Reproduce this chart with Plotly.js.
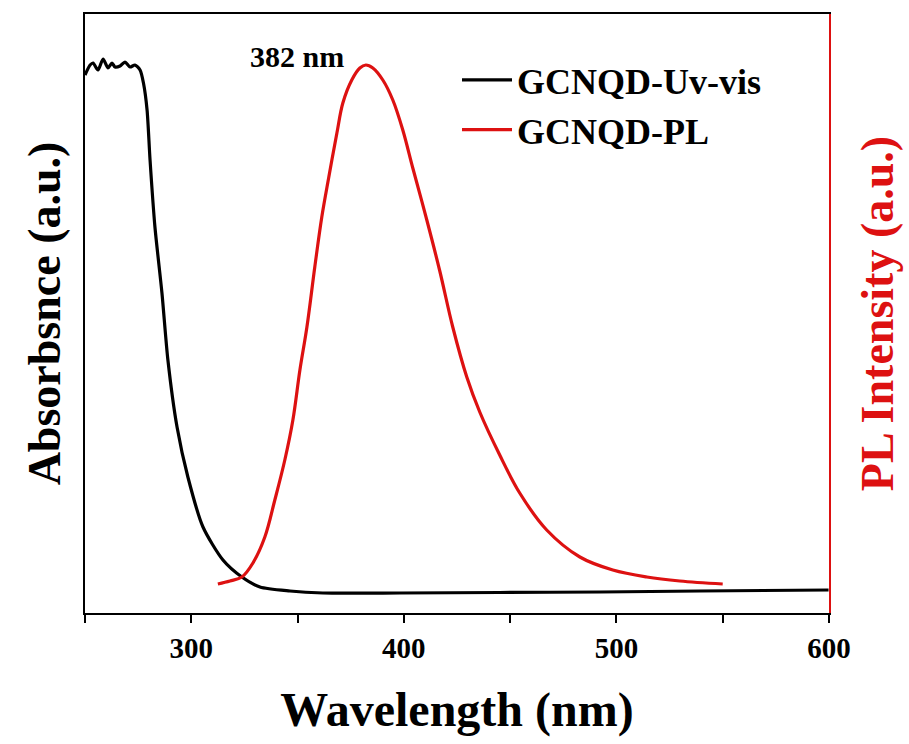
<!DOCTYPE html>
<html>
<head>
<meta charset="utf-8">
<script src="https://cdn.plot.ly/plotly-3.0.1.min.js"></script>
<style>html,body{margin:0;padding:0;background:#fff;}#chart{width:909px;height:744px;}</style>
</head>
<body>
<div id="chart"></div>
<script>
// UV-vis absorbance (arbitrary units)
const uvWavelength = [250.0, 252.4, 253.8, 256.1, 258.5, 260.8, 262.7, 264.1, 266.5, 268.8, 271.2, 273.5, 275.9, 277.5, 279.2, 280.6, 282.9, 286.2, 289.0, 293.3, 298.4, 305.5, 314.9, 323.8, 332.3, 346.4, 361.9, 398.1, 445.1, 492.2, 539.2, 599.8];
const uvAbsorbance = [5.38, 5.48, 5.50, 5.43, 5.54, 5.45, 5.50, 5.46, 5.47, 5.51, 5.46, 5.48, 5.43, 5.30, 5.03, 4.53, 3.86, 3.20, 2.53, 1.86, 1.36, 0.86, 0.53, 0.36, 0.26, 0.22, 0.20, 0.20, 0.205, 0.21, 0.22, 0.23];

// Photoluminescence intensity (arbitrary units)
const plWavelength = [312.5, 318.2, 323.8, 329.0, 334.6, 339.3, 344.0, 347.8, 351.1, 354.4, 358.1, 361.4, 364.7, 368.5, 371.3, 375.5, 379.3, 382.1, 385.4, 390.1, 394.8, 399.5, 404.2, 410.8, 416.9, 423.0, 429.6, 435.7, 445.1, 454.5, 467.2, 482.8, 498.3, 514.3, 529.8, 550.0];
const plIntensity = [290, 320, 360, 500, 760, 1130, 1530, 1930, 2430, 2860, 3460, 3960, 4360, 4800, 5100, 5330, 5450, 5480, 5450, 5330, 5130, 4830, 4450, 3930, 3420, 2860, 2360, 2010, 1580, 1200, 830, 560, 430, 360, 320, 290];

const seriesNames = ["GCNQD-Uv-vis", "GCNQD-PL"];
const peakLabel = "382 nm";
const peakX = 382;
const peakY = 5480;

const serif = "'Liberation Serif', 'Times New Roman', serif";

const traces = [
  {x: uvWavelength, y: uvAbsorbance, name: seriesNames[0], type: 'scatter', mode: 'lines',
   line: {color: '#000000', width: 3.2, shape: 'spline', smoothing: 0.7}, yaxis: 'y'},
  {x: plWavelength, y: plIntensity, name: seriesNames[1], type: 'scatter', mode: 'lines',
   line: {color: '#dd1111', width: 3.2, shape: 'spline', smoothing: 1}, yaxis: 'y2'}
];

const layout = {
  width: 909, height: 744,
  margin: {l: 85, r: 80, t: 14, b: 131},
  paper_bgcolor: '#ffffff', plot_bgcolor: '#ffffff',
  showlegend: true,
  legend: {x: 0.5, xanchor: 'left', y: 0.94, yanchor: 'top',
    font: {family: serif, size: 36, color: '#000', weight: 'bold'},
    bgcolor: 'rgba(0,0,0,0)', borderwidth: 0, itemwidth: 50},
  xaxis: {
    range: [250, 600], showgrid: false, zeroline: false,
    showline: true, linecolor: '#000', linewidth: 2, mirror: true,
    ticks: 'outside', ticklen: 8, tickwidth: 2, tickcolor: '#000',
    tick0: 0, dtick: 100,
    minor: {dtick: 50, ticks: 'outside', ticklen: 8, tickwidth: 2, tickcolor: '#000'},
    tickfont: {family: serif, size: 29, color: '#000', weight: 'bold'},
    title: {text: 'Wavelength (nm)', standoff: 30, font: {family: serif, size: 48, color: '#000', weight: 'bold'}}
  },
  yaxis: {
    range: [0, 5.99], showgrid: false, zeroline: false,
    showline: true, linecolor: '#000', linewidth: 2,
    ticks: '', showticklabels: false,
    title: {text: 'Absorbsnce (a.u.)', standoff: 8, font: {family: serif, size: 46, color: '#000', weight: 'bold'}}
  },
  yaxis2: {
    range: [0, 5990], overlaying: 'y', side: 'right', showgrid: false, zeroline: false,
    showline: true, linecolor: '#dd1111', linewidth: 2,
    ticks: '', showticklabels: false,
    title: {text: 'PL Intensity (a.u.)', standoff: 31, font: {family: serif, size: 46, color: '#dd1111', weight: 'bold'}}
  },
  annotations: [
    {x: peakX, y: peakY, xref: 'x', yref: 'y2', text: peakLabel, showarrow: false,
     xanchor: 'right', yanchor: 'middle', xshift: -20, yshift: 9,
     font: {family: serif, size: 30, color: '#000', weight: 'bold'}}
  ]
};

Plotly.newPlot('chart', traces, layout, {displayModeBar: false, staticPlot: true});
</script>
</body>
</html>
